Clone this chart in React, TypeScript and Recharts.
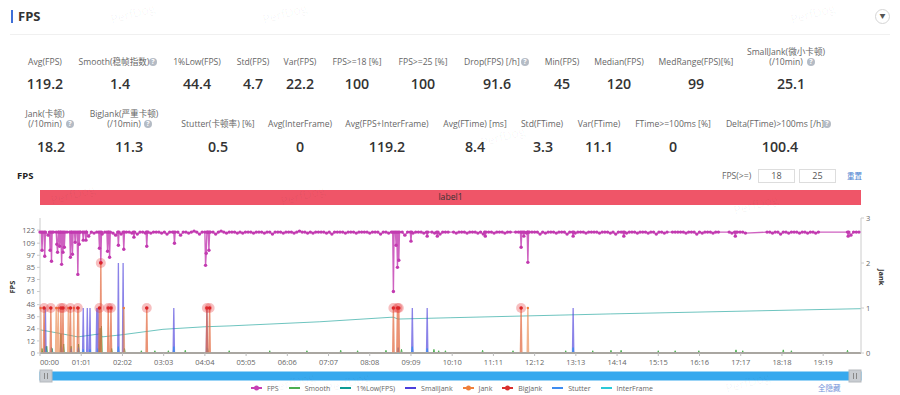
import { LineChart, Line, XAxis, YAxis, Legend, Brush } from 'recharts'

const FONT = '"Open Sans", "Noto Sans CJK SC", sans-serif'
const n = null

// stats above the chart
const topLabels = [['Avg(FPS)'], ['Smooth(稳帧指数)'], ['1%Low(FPS)'], ['Std(FPS)'], ['Var(FPS)'], ['FPS>=18 [%]'], ['FPS>=25 [%]'], ['Drop(FPS) [/h]'], ['Min(FPS)'], ['Median(FPS)'], ['MedRange(FPS)[%]'], ['SmallJank(微小卡顿)', '(/10min)']]
const topValues = ['119.2', '1.4', '44.4', '4.7', '22.2', '100', '100', '91.6', '45', '120', '99', '25.1']
const topLabelX = [45, 114, 197, 253, 300, 357, 423, 492, 562, 619, 696, 786]
const topValueX = [45, 120, 197, 253, 300, 357, 423, 497, 562, 619, 696, 791]
const topHelpX = [0, 153, 0, 0, 0, 0, 0, 525, 0, 0, 0, 811]

const bottomLabels = [['Jank(卡顿)', '(/10min)'], ['BigJank(严重卡顿)', '(/10min)'], ['Stutter(卡顿率) [%]'], ['Avg(InterFrame)'], ['Avg(FPS+InterFrame)'], ['Avg(FTime) [ms]'], ['Std(FTime)'], ['Var(FTime)'], ['FTime>=100ms [%]'], ['Delta(FTime)>100ms [/h]']]
const bottomValues = ['18.2', '11.3', '0.5', '0', '119.2', '8.4', '3.3', '11.1', '0', '100.4']
const bottomLabelX = [45, 124, 218, 300, 387, 475, 542, 599, 673, 775]
const bottomValueX = [51, 129, 218, 300, 387, 475, 543, 599, 673, 780]
const bottomHelpX = [70, 148, 0, 0, 0, 0, 0, 0, 0, 827]

// time axis, in seconds
const lastSecond = 1215
const timeTicks = [0, 61, 122, 183, 244, 305, 366, 427, 488, 549, 610, 671, 732, 793, 854, 915, 976, 1037, 1098, 1159]
const fpsTicks = [0, 12, 24, 36, 48, 61, 73, 85, 97, 109, 122]
const jankTicks = [0, 1, 2, 3]

// FPS read every 4 seconds, n where the reference only shows the thin line
const fpsReadings = [
  120, 118, 121, 117, 119, 120, 116, 121, 119, 118, 120, 121, 117, 119, 115, 120, 118, 120, 116, 120,
  119, 120, 116, 118, 120, 114, 120, 119, 117, 120, 118, 119, 120, 120, 119, 120, 118, 120, 120, 119,
  120, 119, 120, 120, 120, 119, 120, 118, 120, 120, 119, 120, 117, 120, 120, 119, 120, 121, 120, 118,
  120, 119, 120, 120, 120, 118, 120, 121, 120, 119, 120, 120, 120, 119, 120, 119, 120, 120, 120, 119,
  120, 120, 120, 119, 120, 120, 118, 120, 120, 120, 119, 120, 120, 120, 119, 120, 121, 120, 120, 119,
  120, 119, 120, 120, 120, 120, 119, 120, 118, 120, 120, 120, 120, 119, 120, 120, 120, 119, 120, 120,
  120, 120, 119, 120, 120, 120, 118, 120, 120, 119, 120, 120, 120, 119, 120, 117, 120, 120, 119, 120,
  120, 120, 119, 120, n, 120, 119, 120, 118, 120, 120, 120, n, 120, 119, 120, 120, 120, 119, 120,
  120, 120, 119, 120, 118, 120, 120, 120, 119, 120, 120, 120, 119, 120, 120, n, 120, 120, 119, 120,
  119, 120, 120, 120, 120, 118, 120, 119, 120, 120, 120, 119, 120, 120, 120, 118, 120, 120, 119, 120,
  120, 120, 119, 120, 120, 120, 120, 119, 120, 120, 120, 119, 120, 118, 120, 120, 120, 119, 120, 120,
  120, 119, 120, 120, 120, 119, 120, 120, 118, 120, 120, 119, 120, n, 120, 120, 120, 120, 120, 119,
  120, 120, 120, 118, 120, 119, 120, 120, 120, 119, 120, 120, n, n, n, 120, 119, 117, 120, 120,
  120, 119, n, n, n, n, n, n, n, 120, 120, 119, 120, 120, 118, 120, 120, 119, 120, 120,
  120, 119, 120, 120, 119, 120, 120, 119, 120, n, n, n, n, n, n, n, n, n, n, 119,
  117, 120, 120, 120,
]
const fpsBaseline = 120
const fpsDips: [number, number][] = [
  [3, 102], [7, 96], [15, 102], [17, 91], [25, 108], [26, 100], [29, 106], [32, 88], [34, 100], [36, 105],
  [45, 95], [48, 98], [52, 110], [56, 78], [58, 108], [64, 112], [68, 112], [88, 104], [90, 90], [100, 101],
  [103, 95], [116, 107], [124, 103], [139, 115], [158, 106], [199, 109], [245, 87], [246, 99], [250, 102],
  [523, 61], [527, 107], [529, 85], [531, 92], [549, 111], [573, 116], [588, 116], [659, 116],
  [712, 105], [716, 116], [722, 90], [789, 116], [864, 116], [1029, 116], [1196, 116],
]
// 1%Low only read at the bends, the line runs straight between them
const lowReadings: [number, number][] = [
  [0, 23], [25, 20], [56, 16], [89, 19], [92, 16], [120, 18], [182, 23.5], [243, 26], [281, 26.9], [414, 31],
  [518, 35.4], [523, 35.5], [530, 33.7], [607, 35], [844, 38.8], [1215, 44],
]
const smoothBumps: [number, number][] = [
  [3, 0.1], [10, 0.15], [18, 0.1], [31, 0.42], [35, 0.2], [46, 0.15], [57, 0.2], [89, 0.55], [91, 0.6],
  [106, 0.1], [125, 0.1], [150, 0.05], [170, 0.05], [190, 0.05], [215, 0.06], [248, 0.1], [280, 0.05],
  [340, 0.05], [395, 0.05], [445, 0.06], [470, 0.05], [512, 0.06], [535, 0.08], [583, 0.08], [590, 0.05],
  [600, 0.05], [655, 0.06], [700, 0.05], [778, 0.05], [818, 0.05], [845, 0.06], [860, 0.06], [915, 0.05],
  [940, 0.05], [975, 0.05], [1030, 0.07], [1040, 0.05], [1100, 0.07], [1112, 0.05], [1195, 0.06],
]
const smallJankSpikes: [number, number][] = [
  [8, 1], [64, 1], [70, 1], [74, 1], [84, 1], [86, 1], [116, 2], [123, 2], [198, 1], [247, 1], [551, 1], [573, 1], [789, 1],
]
const stutterBumps: [number, number][] = [
  [8, 0.14], [17, 0.12], [32, 0.14], [46, 0.1], [57, 0.12], [64, 0.08], [74, 0.08], [86, 0.1], [116, 0.14],
  [198, 0.14], [247, 0.12], [530, 0.12], [551, 0.14], [573, 0.1], [789, 0.12],
]
const jankSpikes: [number, number][] = [
  [1, 1], [6, 1], [16, 1], [24, 1], [27, 1], [31, 1], [34, 1], [42, 1], [45, 1], [50, 1], [56, 1], [57, 1], [88, 1],
  [90, 2], [101, 1], [105, 1], [124, 1], [158, 1], [247, 1], [251, 1], [523, 1], [529, 1], [531, 1], [712, 1], [722, 1],
]
const bigJankSpikes: [number, number][] = [
  [6, 1], [16, 1], [31, 1], [34, 1], [45, 1], [56, 1], [88, 1], [90, 2], [101, 1], [105, 1], [158, 1], [247, 1], [251, 1],
  [523, 1], [529, 1], [531, 1], [712, 1],
]

const fpsDipMap = new Map(fpsDips)
const lowMap = new Map(lowReadings)
const smoothMap = new Map(smoothBumps)
const smallJankMap = new Map(smallJankSpikes)
const stutterMap = new Map(stutterBumps)
const jankMap = new Map(jankSpikes)
const bigJankMap = new Map(bigJankSpikes)

function fpsAt(t: number) {
  if (fpsDipMap.has(t)) return fpsDipMap.get(t)
  if (fpsDipMap.has(t - 1) || fpsDipMap.has(t + 1)) return fpsBaseline
  return t % 4 === 0 ? fpsReadings[t / 4] ?? null : null
}

const rows = Array.from({ length: lastSecond + 1 }, (_, t) => ({
  t,
  fps: fpsAt(t),
  smooth: smoothMap.get(t) ?? 0,
  low: lowMap.get(t) ?? null,
  smallJank: smallJankMap.get(t) ?? 0,
  jank: jankMap.get(t) ?? 0,
  bigJank: bigJankMap.get(t) ?? 0,
  stutter: stutterMap.get(t) ?? 0,
  interFrame: 0,
}))

const legendRows = [
  { name: 'FPS', color: '#C73FB5', dot: true },
  { name: 'Smooth', color: '#4CAF50', dot: false },
  { name: '1%Low(FPS)', color: '#0E9C94', dot: false },
  { name: 'SmallJank', color: '#4B3FDC', dot: false },
  { name: 'Jank', color: '#F0803C', dot: true },
  { name: 'BigJank', color: '#D9302E', dot: true },
  { name: 'Stutter', color: '#3F8CF0', dot: false },
  { name: 'InterFrame', color: '#2CC9D8', dot: false },
]

const watermarks = [
  [110, 5], [262, 5], [790, 5], [50, 186], [280, 187], [733, 196], [270, 374], [325, 374], [725, 374], [480, 128],
]

function mmss(t: number) {
  const m = Math.floor(t / 60)
  const s = t % 60
  return `${String(m).padStart(2, '0')}:${String(s).padStart(2, '0')}`
}

function TimeTick({ x, y, payload }: any) {
  return (
    <g>
      <text x={x} y={y + 7} fontSize={7.5} fontFamily={FONT} fill="#666" textAnchor={payload.value === 0 ? 'start' : 'middle'}>
        {mmss(payload.value)}
      </text>
    </g>
  )
}

function FpsDot({ cx, cy, index, value }: any) {
  if (cy == null || value == null) return null
  return <circle key={index} cx={cx} cy={cy} r={1.7} fill="#C23AB0" />
}

function JankDot({ cx, cy, index, value }: any) {
  if (!value) return null
  return <circle key={index} cx={cx} cy={cy} r={1.2} fill="#F0803C" />
}

function BigJankDot({ cx, cy, index, value }: any) {
  if (!value) return null
  return (
    <g key={index}>
      <circle cx={cx} cy={cy} r={5} fill="#E5383B" fillOpacity={0.32} />
      <circle cx={cx} cy={cy} r={1.8} fill="#DB2428" />
    </g>
  )
}

function SliderHandle({ x, y, width, height }: any) {
  return (
    <g>
      <rect x={x} y={y - 2} width={width} height={height + 4} fill="#C9CDD2" stroke="#B5B9BE" />
      <rect x={x + 4} y={y + 1} width={1} height={height - 2} fill="#888" />
      <rect x={x + 7} y={y + 1} width={1} height={height - 2} fill="#888" />
    </g>
  )
}

function ChartLegend() {
  return (
    <div style={{ display: 'flex', justifyContent: 'flex-start', paddingLeft: 251, fontFamily: FONT, fontSize: 7, color: '#666', height: 14, alignItems: 'center' }}>
      {legendRows.map((item) => (
        <span key={item.name} style={{ display: 'flex', alignItems: 'center', marginRight: 10 }}>
          <svg width={11} height={8} style={{ marginRight: 5 }}>
            <rect x={0} y={3} width={11} height={2} fill={item.color} />
            {item.dot && <circle cx={5.5} cy={4} r={2.5} fill={item.color} />}
          </svg>
          {item.name}
        </span>
      ))}
    </div>
  )
}

function Help({ x, y }: { x: number; y: number }) {
  return (
    <div style={{ position: 'absolute', left: x - 4, top: y - 4, width: 8, height: 8, borderRadius: 4, background: '#B4BBC5', color: '#fff', fontSize: 7, lineHeight: '8px', textAlign: 'center', fontWeight: 700 }}>
      ?
    </div>
  )
}

function StatRow({ labels, values, labelX, valueX, helpX, labelY, valueY }: any) {
  return (
    <>
      {labels.map((lines: string[], i: number) => (
        <div key={i}>
          <div style={{ position: 'absolute', left: labelX[i], transform: 'translateX(-50%)', top: labelY - 5 - (lines.length - 1) * 10, lineHeight: '10px', textAlign: 'center', fontSize: 8.6, color: '#666', whiteSpace: 'pre' }}>
            {lines.join('\n')}
          </div>
          {helpX[i] > 0 && <Help x={helpX[i]} y={labelY} />}
          <div style={{ position: 'absolute', left: valueX[i] - 50, width: 100, top: valueY - 11, lineHeight: '22px', textAlign: 'center', fontSize: 14.2, fontWeight: 600, color: '#333' }}>
            {values[i]}
          </div>
        </div>
      ))}
    </>
  )
}

export default function App() {
  return (
    <div style={{ position: 'absolute', left: 0, top: 0, width: 900, height: 395, overflow: 'hidden', background: '#fff', fontFamily: FONT }}>
      <div style={{ position: 'absolute', left: 11, top: 10, width: 2, height: 13, background: '#3F6FD8' }} />
      <div style={{ position: 'absolute', left: 18, top: 7, fontSize: 13, lineHeight: '18px', fontWeight: 700, color: '#333' }}>FPS</div>
      <div style={{ position: 'absolute', left: 10, top: 34, width: 880, height: 1, background: '#F0F0F0' }} />
      <div style={{ position: 'absolute', left: 875, top: 9, width: 13, height: 13, border: '1px solid #D5D5D5', borderRadius: 8, fontSize: 6, lineHeight: '13px', textAlign: 'center', color: '#555' }}>▼</div>

      <StatRow labels={topLabels} values={topValues} labelX={topLabelX} valueX={topValueX} helpX={topHelpX} labelY={62} valueY={84} />
      <StatRow labels={bottomLabels} values={bottomValues} labelX={bottomLabelX} valueX={bottomValueX} helpX={bottomHelpX} labelY={124} valueY={147} />

      <div style={{ position: 'absolute', left: 17, top: 168, fontSize: 9.5, lineHeight: '16px', fontWeight: 700, color: '#222' }}>FPS</div>
      <div style={{ position: 'absolute', left: 722, top: 169, fontSize: 8.6, lineHeight: '14px', color: '#666' }}>FPS(&gt;=)</div>
      <div style={{ position: 'absolute', left: 758, top: 169, width: 35, height: 12, border: '1px solid #DDD', fontSize: 9, lineHeight: '12px', textAlign: 'center', color: '#555' }}>18</div>
      <div style={{ position: 'absolute', left: 799, top: 169, width: 35, height: 12, border: '1px solid #DDD', fontSize: 9, lineHeight: '12px', textAlign: 'center', color: '#555' }}>25</div>
      <div style={{ position: 'absolute', left: 847, top: 169, fontSize: 7.5, lineHeight: '14px', color: '#4A7FD0' }}>重置</div>

      <div style={{ position: 'absolute', left: 40, top: 190, width: 821, height: 15, background: '#EF5568', fontSize: 8.6, lineHeight: '15px', textAlign: 'center', color: '#333' }}>label1</div>

      <div style={{ position: 'absolute', left: 0, top: 0 }}>
        <LineChart width={900} height={395} data={rows} margin={{ top: 218, right: 0, bottom: 15, left: 0 }}>
          <XAxis
            dataKey="t"
            type="number"
            domain={[0, lastSecond]}
            ticks={timeTicks}
            interval={0}
            height={19}
            tick={TimeTick}
            tickSize={3}
            axisLine={{ stroke: '#BBB' }}
            tickLine={{ stroke: '#BBB' }}
          />
          <YAxis
            yAxisId="fps"
            width={40}
            domain={[0, 134]}
            ticks={fpsTicks}
            interval={0}
            tick={{ fontSize: 7.5, fill: '#666', fontFamily: FONT }}
            tickSize={3}
            axisLine={{ stroke: '#CCC' }}
            tickLine={{ stroke: '#CCC' }}
            label={{ value: 'FPS', angle: -90, position: 'insideLeft', offset: 12, dy: 8, fontSize: 7.5, fontWeight: 700, fill: '#333', fontFamily: FONT }}
          />
          <YAxis
            yAxisId="jank"
            orientation="right"
            width={39}
            domain={[0, 3]}
            ticks={jankTicks}
            interval={0}
            tick={{ fontSize: 7.5, fill: '#666', fontFamily: FONT }}
            tickSize={3}
            axisLine={{ stroke: '#CCC' }}
            tickLine={{ stroke: '#CCC' }}
            label={{ value: 'Jank', angle: 90, position: 'insideRight', offset: 18, fontSize: 7.5, fontWeight: 700, fill: '#333', fontFamily: FONT }}
          />
          <Line yAxisId="fps" dataKey="fps" name="FPS" stroke="#C23AB0" strokeOpacity={0.8} strokeWidth={1.4} connectNulls dot={FpsDot} activeDot={false} isAnimationActive={false} />
          <Line yAxisId="jank" dataKey="smooth" name="Smooth" stroke="#4CAF50" strokeWidth={1} dot={false} activeDot={false} isAnimationActive={false} />
          <Line yAxisId="fps" dataKey="low" name="1%Low(FPS)" stroke="#0E9C94" strokeOpacity={0.6} strokeWidth={1} connectNulls dot={false} activeDot={false} isAnimationActive={false} />
          <Line yAxisId="jank" dataKey="smallJank" name="SmallJank" stroke="#4B3FDC" strokeOpacity={0.65} strokeWidth={1.3} dot={false} activeDot={false} isAnimationActive={false} />
          <Line yAxisId="jank" dataKey="stutter" name="Stutter" stroke="#3F8CF0" strokeWidth={1} dot={false} activeDot={false} isAnimationActive={false} />
          <Line yAxisId="fps" dataKey="interFrame" name="InterFrame" stroke="#2CC9D8" strokeWidth={1.6} dot={false} activeDot={false} isAnimationActive={false} />
          <Line yAxisId="jank" dataKey="jank" name="Jank" stroke="#E98A50" strokeOpacity={0.65} strokeWidth={1.4} dot={JankDot} activeDot={false} isAnimationActive={false} />
          <Line yAxisId="jank" dataKey="bigJank" name="BigJank" stroke="#D9302E" strokeOpacity={0.25} strokeWidth={1.2} dot={BigJankDot} activeDot={false} isAnimationActive={false} />
          <Brush dataKey="t" y={372} height={8} travellerWidth={12} fill="#38A9EE" stroke="#38A9EE" traveller={SliderHandle} />
          <Legend verticalAlign="middle" layout="horizontal" align="center" content={ChartLegend} wrapperStyle={{ left: 0, top: 381, width: 900 }} />
        </LineChart>
      </div>

      <div style={{ position: 'absolute', left: 818, top: 381, fontSize: 7.5, lineHeight: '14px', color: '#6F8FD8' }}>全隐藏</div>

      {watermarks.map(([x, y], i) => (
        <div key={i} style={{ position: 'absolute', left: x, top: y, fontSize: 12, color: 'rgba(0,0,0,0.04)', transform: 'rotate(-15deg)', pointerEvents: 'none' }}>
          PerfDog
        </div>
      ))}
    </div>
  )
}
